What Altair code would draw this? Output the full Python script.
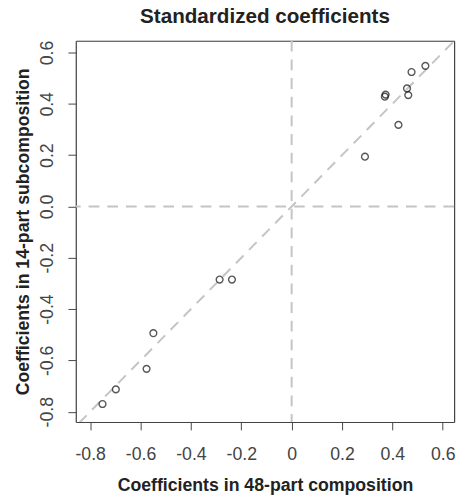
import altair as alt
import pandas as pd

# Data
coef_48 = [0.531, 0.476, 0.373, 0.370, 0.458, 0.463, 0.424, 0.291,
           -0.286, -0.237, -0.549, -0.576, -0.698, -0.751]
coef_14 = [0.548, 0.524, 0.436, 0.428, 0.460, 0.434, 0.318, 0.194,
           -0.285, -0.285, -0.494, -0.633, -0.713, -0.770]
tick_vals = [-0.8, -0.6, -0.4, -0.2, 0.0, 0.2, 0.4, 0.6]
zero_line = [0.0]
diag_line = [-1.0, 1.0]

FONT = "Liberation Sans"
BOX = "#444"
pts = pd.DataFrame({"x": coef_48, "y": coef_14})
zero_df = pd.DataFrame({"v": zero_line})
diag_df = pd.DataFrame({"x": diag_line, "y": diag_line})

xscale = alt.Scale(domain=[-0.857, 0.645], nice=False, zero=False)
yscale = alt.Scale(domain=[-0.84, 0.646], nice=False, zero=False)

xaxis = alt.Axis(
    values=tick_vals, title="Coefficients in 48-part composition",
    labelExpr="datum.value == 0 ? '0' : replace(format(datum.value, '.1f'), '\u2212', '-')",
    labelFontSize=18, labelColor="#444", labelFont=FONT, labelPadding=16,
    tickSize=8, tickColor=BOX, domain=True, domainColor=BOX, domainWidth=1.2, grid=False,
    titleFontSize=18, titleFont=FONT, titleFontWeight="bold", titleColor="#222",
    titlePadding=14,
)
yaxis = alt.Axis(
    values=tick_vals, title="Coefficients in 14-part subcomposition",
    labelExpr="replace(format(datum.value, '.1f'), '\u2212', '-')",
    labelFontSize=18, labelColor="#444", labelFont=FONT, labelPadding=12,
    labelAngle=-90, labelAlign="center", labelBaseline="bottom",
    tickSize=8, tickColor=BOX, domain=True, domainColor=BOX, domainWidth=1.2, grid=False,
    titleFontSize=18, titleFont=FONT, titleFontWeight="bold", titleColor="#222",
    titlePadding=6,
)
frame_x = alt.Axis(orient="top", domain=True, domainColor=BOX, domainWidth=1.2,
                   ticks=False, labels=False, grid=False, title=None)
frame_y = alt.Axis(orient="right", domain=True, domainColor=BOX, domainWidth=1.2,
                   ticks=False, labels=False, grid=False, title=None)

dash_color = "#c4c4c4"
vline = alt.Chart(zero_df).mark_rule(color=dash_color, strokeWidth=2, strokeDash=[11, 8]).encode(
    x=alt.X("v:Q", scale=xscale, axis=xaxis)
)
hline = alt.Chart(zero_df).mark_rule(color=dash_color, strokeWidth=2, strokeDash=[11, 8]).encode(
    y=alt.Y("v:Q", scale=yscale, axis=yaxis)
)
diag = alt.Chart(diag_df).mark_line(color=dash_color, strokeWidth=2, strokeDash=[11, 8], clip=True).encode(
    x=alt.X("x:Q", scale=xscale, axis=xaxis),
    y=alt.Y("y:Q", scale=yscale, axis=yaxis),
)
points = alt.Chart(pts).mark_point(shape="circle", filled=False, color="#111", size=48, strokeWidth=1.4).encode(
    x=alt.X("x:Q", scale=xscale, axis=xaxis),
    y=alt.Y("y:Q", scale=yscale, axis=yaxis),
)
frame = alt.Chart(pts).mark_point(opacity=0).encode(
    x=alt.X("x:Q", scale=xscale, axis=frame_x),
    y=alt.Y("y:Q", scale=yscale, axis=frame_y),
)

main = alt.layer(vline, hline, diag, points)

chart = alt.layer(main, frame).resolve_axis(
    x="independent", y="independent"
).properties(
    width=385, height=388,
    title=alt.TitleParams("Standardized coefficients", fontSize=21, font=FONT,
                          fontWeight="bold", color="#222", offset=13, anchor="middle",
                          frame="group"),
    autosize=alt.AutoSizeParams(type="none"),
    padding={"left": 69, "top": 29, "right": 6, "bottom": 70},
    background="white",
)

chart.save("out.html", embed_options={"renderer": "svg", "actions": False})
